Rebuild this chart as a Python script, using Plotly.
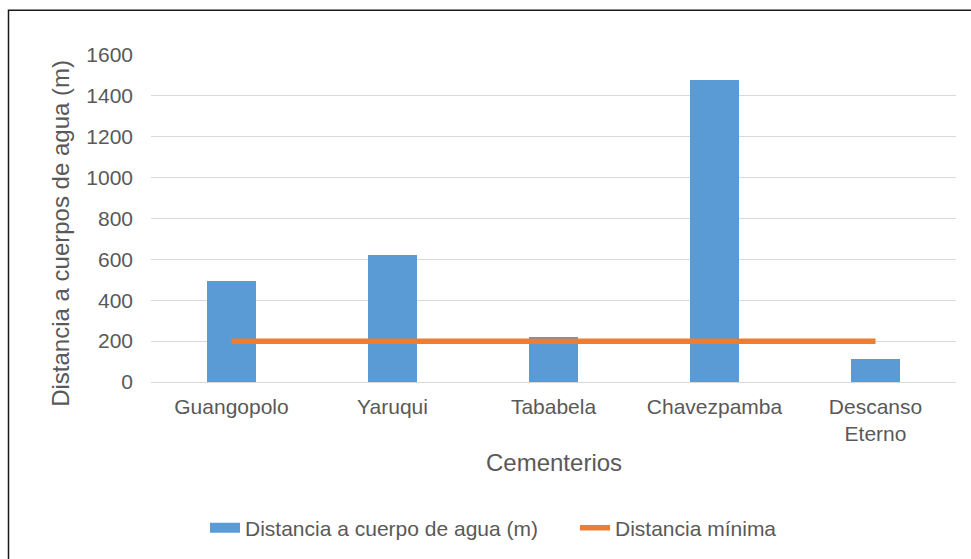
import plotly.graph_objects as go

# Cemeteries and their distance to the nearest water body (m)
cementerios = ["Guangopolo", "Yaruqui", "Tababela", "Chavezpamba", "Descanso<br>Eterno"]
distancia_agua = [493, 621, 218, 1478, 114]
distancia_minima = [200, 200, 200, 200, 200]
y_ticks = [0, 200, 400, 600, 800, 1000, 1200, 1400, 1600]

W, H = 971, 559
# plot area in pixels
PL, PR, PT, PB = 151, 956, 54.5, 382.7
pw, ph = PR - PL, PB - PT


def px_x(x):
    return (x - PL) / pw


def px_y(y):
    return (PB - y) / ph


FONT = "Liberation Sans, Arial, sans-serif"
TXT = "#595959"
BLUE = "#5B9BD5"
ORANGE = "#ED7D31"

fig = go.Figure()
fig.add_trace(go.Bar(
    x=cementerios, y=distancia_agua, width=0.31,
    marker=dict(color=BLUE, line=dict(width=0)),
    name="Distancia a cuerpo de agua (m)", showlegend=False,
))
fig.add_trace(go.Scatter(
    x=cementerios, y=distancia_minima, mode="lines",
    line=dict(color=ORANGE, width=5.5),
    name="Distancia mínima", showlegend=False,
))
# legend entries (wide swatches)
fig.add_trace(go.Scatter(
    x=[None], y=[None], mode="lines",
    line=dict(color=BLUE, width=11),
    name="Distancia a cuerpo de agua (m)",
))
fig.add_trace(go.Scatter(
    x=[None], y=[None], mode="lines",
    line=dict(color=ORANGE, width=5.5),
    name="Distancia mínima",
))

fig.update_layout(
    width=W, height=H,
    margin=dict(l=PL, r=W - PR, t=PT, b=H - PB, pad=0),
    paper_bgcolor="white", plot_bgcolor="white",
    font=dict(family=FONT, size=21, color=TXT),
    showlegend=True,
    legend=dict(
        orientation="h", x=px_x(205), xanchor="left",
        y=px_y(528), yanchor="middle",
        font=dict(family=FONT, size=21, color=TXT),
        itemwidth=30, tracegroupgap=0, entrywidth=325,
    ),
    xaxis=dict(
        showgrid=False, showline=False, zeroline=False,
        tickfont=dict(family=FONT, size=21, color=TXT),
        ticks="", ticklabelstandoff=10,
    ),
    yaxis=dict(
        range=[0, 1600], tickvals=y_ticks,
        showgrid=True, gridcolor="#D9D9D9", gridwidth=1,
        zeroline=True, zerolinecolor="#D9D9D9", zerolinewidth=1,
        showline=False, ticks="",
        tickfont=dict(family=FONT, size=21, color=TXT),
        ticklabelstandoff=17,
    ),
    bargap=0,
    annotations=[
        dict(text="Distancia a cuerpos de agua (m)", textangle=-90,
             xref="paper", yref="paper", x=px_x(61), y=px_y(234),
             xanchor="center", yanchor="middle", showarrow=False,
             font=dict(family=FONT, size=24, color=TXT)),
        dict(text="Cementerios",
             xref="paper", yref="paper", x=0.5, y=px_y(463),
             xanchor="center", yanchor="middle", showarrow=False,
             font=dict(family=FONT, size=24, color=TXT)),
    ],
    shapes=[
        dict(type="rect", xref="paper", yref="paper",
             x0=px_x(8.5), x1=px_x(980), y0=px_y(570), y1=px_y(9.5),
             line=dict(color="#1a1a1a", width=1.5), fillcolor="rgba(0,0,0,0)",
             layer="below"),
    ],
)

fig.write_html("out.html")
